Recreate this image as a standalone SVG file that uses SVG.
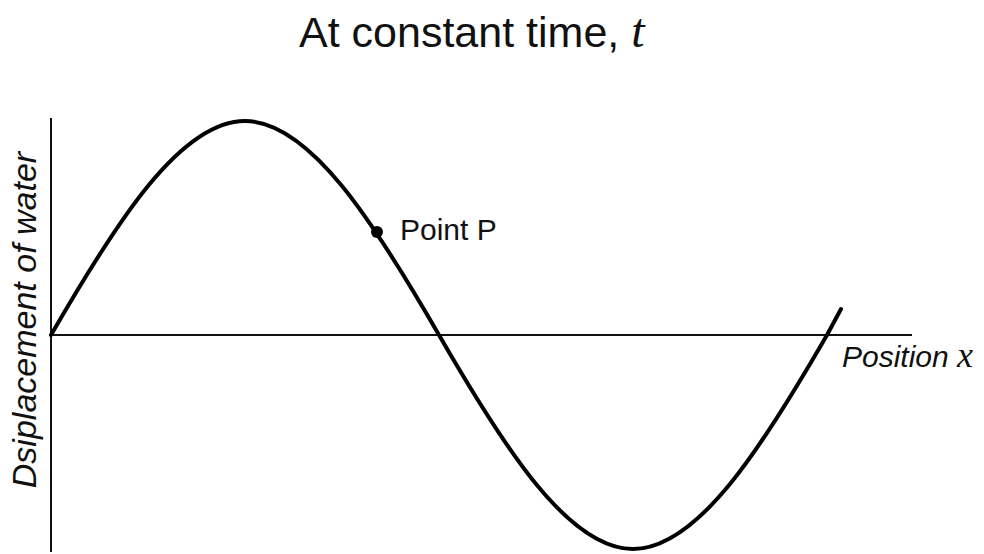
<svg xmlns="http://www.w3.org/2000/svg" width="984" height="554" viewBox="0 0 984 554">
  <style>
    .sans { font-family: "Liberation Sans", Arial, sans-serif; fill: #111; }
    .axis { stroke: #111; stroke-width: 2; fill: none; }
    .wave { stroke: #000; stroke-width: 4; fill: none; stroke-linecap: round; }
  </style>
  <rect width="984" height="554" fill="#fff"/>
  <g id="title">
    <text class="sans" x="299" y="47" font-size="43">At constant time, <tspan font-family="'Liberation Serif', 'Times New Roman', serif" font-style="italic" font-size="48">t</tspan></text>
  </g>
  <g id="connectors">
    <line id="y-axis" class="axis" x1="51" y1="118" x2="51" y2="552"/>
    <line id="x-axis" class="axis" x1="51" y1="335" x2="912" y2="335"/>
  </g>
  <g id="wave">
    <path class="wave" d="M51,335 C115.67,222.95 180.33,121 245,121 C309.67,121 374.33,222.95 439,335 C503.67,447.05 568.33,549 633,549 C697.67,549 762.33,447.05 827,335 L841,309"/>
  </g>
  <g id="point-p">
    <circle cx="377" cy="232" r="6" fill="#000"/>
    <text class="sans" x="400" y="240" font-size="30">Point P</text>
  </g>
  <g id="x-label">
    <text class="sans" x="842" y="367" font-size="30" font-style="italic">Position <tspan font-family="'Liberation Serif', 'Times New Roman', serif" font-style="italic" font-size="36">x</tspan></text>
  </g>
  <g id="y-label">
    <text class="sans" x="0" y="0" font-size="34" font-style="italic" text-anchor="middle" transform="translate(36,320) rotate(-90)">Dsiplacement of water</text>
  </g>
</svg>
